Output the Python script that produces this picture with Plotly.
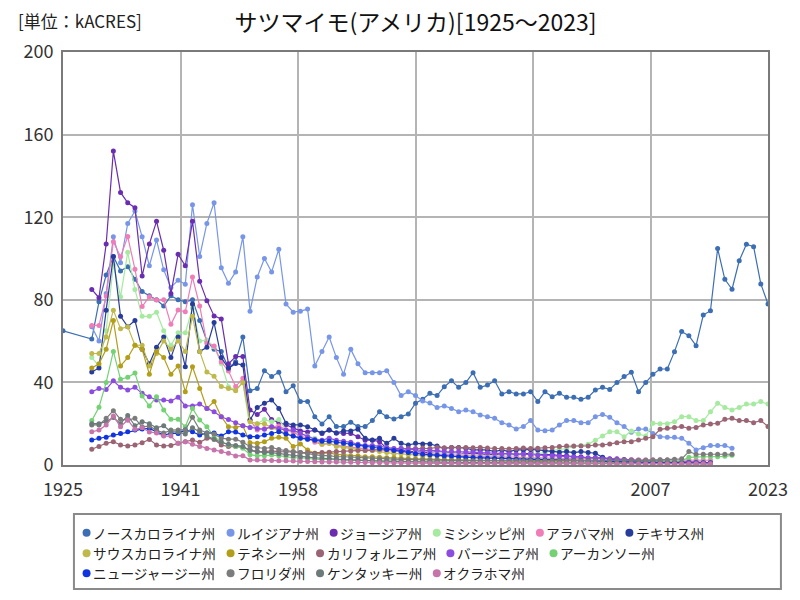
import plotly.graph_objects as go

FONT = "Noto Sans CJK JP"

# sweet potato harvested area by state, kACRES
names = ["ノースカロライナ州", "ルイジアナ州", "ジョージア州", "ミシシッピ州", "アラバマ州", "テキサス州",
         "サウスカロライナ州", "テネシー州", "カリフォルニア州", "バージニア州", "アーカンソー州",
         "ニュージャージー州", "フロリダ州", "ケンタッキー州", "オクラホマ州"]
colors = ["#3c6eb4", "#7896e8", "#6a2db0", "#a6eaa0", "#f07cb8", "#283c9c",
          "#bfb84a", "#b39e1a", "#9a6474", "#8c4ce0", "#74d274",
          "#1034e0", "#7c7c7c", "#6c7a7a", "#c674aa"]
legend_rows = [6, 5, 4]

nc_1925 = 65
north_carolina = [61, 79, 92, 101, 94, 96, 90, 84, 82, 80, 77,
                  82, 80, 79, 80, 70, 60, 56, 55, 47, 50,
                  62, 36, 37, 45.7, 42.8, 44.9, 35.5, 38.4, 30.8, 30.8,
                  23.4, 19.9, 23.4, 18.6, 18.6, 20.7, 18.6, 18.6, 21.5, 25.8,
                  23.4, 22.3, 23.4, 24.7, 29.9, 31.8, 34.7, 33.6, 37.9, 40.8,
                  37.6, 39.9, 44.7, 37.6, 38.7, 40.8, 34.4, 35.5, 34.4, 34.4,
                  35.5, 30.7, 35.5, 33.0, 34.7, 32.8, 32.8, 31.8, 32.8, 36.3,
                  37.6, 36.6, 39.9, 42.8, 44.9, 35.5, 39.9, 43.9, 46.5, 46.5,
                  54.9, 64.6, 62.6, 57.8, 72.6, 74.7, 104.8, 89.9, 85.1, 98.9,
                  106.9, 105.7, 87.7, 78.0]
louisiana = [67, 60, 83, 110.5, 98, 117, 123, 110.5, 96.5, 109, 94.5,
             86, 89.5, 87.5, 126, 101, 117, 127, 95.5, 88, 93.5,
             110.5, 74.5, 91, 100, 93.5, 104.5, 78, 74, 74.5, 75.5,
             48, 55, 62, 52, 44, 56, 49, 44.7, 44.7, 44.7,
             45.7, 40, 33.6, 35.5, 33.6, 31, 30, 27.8, 28.6, 27.4,
             25.8, 26.6, 25.8, 24.2, 23.4, 22.6, 20.5, 19.4, 17.4, 18.6,
             21.5, 16.9, 16.6, 16.9, 19.4, 21.5, 21.5, 20.5, 20.5, 23.4,
             24.5, 23.1, 20.5, 18.6, 15.8, 17.4, 17.4, 15.3, 13.7, 13.4,
             13.4, 12.9, 10.5, 7.3, 8.4, 9.4, 9.4, 9.4, 8.1]
georgia = [85, 81, 107, 152, 132, 127, 124.6, 91.5, 107, 118, 104,
           83, 102, 96.5, 118, 89, 79.6, 72.2, 70.7, 49, 52.5,
           52.5, 26.6, 24.5, 27, 22, 20.5, 19.5, 18, 16.5, 16,
           17, 15.3, 17, 15.5, 15.3, 15.3, 13.7, 12, 12, 11.3,
           8, 7.3, 7.3, 6.5, 6.5, 6.3, 6, 6.5, 6, 6,
           5.5, 5.5, 5.5, 5.5, 5, 5, 5.5, 5.5, 5, 5.5,
           5.5, 5, 5, 5, 4.5, 4.5, 4, 4, 3.5, 3.5,
           3.5, 3, 3, 2.5, 2.5, 2.2, 2, 2, 2, 1.8,
           1.8, 1.5, 1.5, 1.2, 1.2, 1.2]
mississippi = [52, 48, 65, 97, 81.5, 103, 85, 72, 72, 74, 65,
               58, 64, 64, 76, 60, 60.5, 57.3, 49.2, 37.9, 36.3,
               40, 18, 20, 22, 21, 22, 17, 16, 15, 14,
               13, 12, 13, 11, 11, 10, 10, 9.5, 9, 9,
               8.5, 8, 8, 7.5, 7, 7, 6.5, 6, 6, 5.5,
               5.5, 5, 5, 4.5, 4.5, 4.5, 4.5, 5, 4.5, 5,
               5, 5.5, 6, 7, 7.5, 8, 9, 9.5, 10, 12,
               14, 16.1, 16.1, 13.7, 16.5, 15, 14, 20.2, 20, 20,
               21, 23.4, 23.4, 21.5, 21.5, 25.8, 29.9, 27.9, 26.6, 27.9,
               29.5, 29.5, 30.7, 29.5]
alabama = [67.6, 67.6, 81.8, 108.1, 100.9, 110.6, 94.8, 76.7, 81.5, 79.9, 80,
           68.1, 75.1, 74.2, 91, 77, 58.9, 57.6, 50, 45.5, 38,
           42, 21.8, 16.9, 17.7, 18.5, 18.9, 17, 16, 14, 13,
           11, 10, 10.5, 9.5, 9, 8.6, 8.2, 7.8, 7.5, 7.2,
           6.8, 6.5, 6.2, 6, 5.8, 5.7, 5.5, 5.3, 5, 5,
           4.8, 4.5, 4.5, 4.3, 4, 4, 4, 3.8, 3.8, 3.6,
           3.5, 3.5, 3.5, 3.3, 3.2, 3.2, 3, 3, 3, 3,
           2.8, 2.8, 2.8, 2.6, 2.6, 2.6, 2.5, 2.5, 2.5, 2.4,
           2.4, 2.4, 2.4, 2.3, 2.3, 2.3]
texas = [45, 47, 75, 101, 72, 67, 70, 56, 49, 57, 62,
         52, 62, 47.6, 78, 55, 57, 69, 52, 46.8, 49.2,
         48.4, 21.8, 27.8, 29.9, 31.5, 27.4, 20.2, 19.4, 19.4, 18.5,
         16.9, 15.5, 17, 15.5, 16.5, 16.5, 17.3, 12.9, 12.1, 12.9,
         10.5, 12.9, 10.5, 9.7, 10.5, 10.2, 10.2, 9.2, 8.1, 8.5,
         8.5, 8.1, 7.3, 7.3, 7.3, 6.5, 7.3, 6.5, 7.3, 7.3,
         7.5, 7.3, 7, 6.5, 6.2, 6.5, 6, 6.5, 6, 5.7,
         3.7, 2.8, 2.5, 2.5, 2.2, 2, 2, 1.8, 1.5, 1.5,
         1.2, 1.2, 1, 1, 0.8, 0.5]
south_carolina = [54, 54, 62, 75, 66, 67, 58, 58, 48, 54, 60,
                  56, 60, 55, 72, 55, 45, 43, 38, 37, 36,
                  40, 21, 20, 20, 18, 17, 15, 14, 13, 12.5,
                  12, 10, 10.5, 9, 8.5, 8, 7.5, 7, 7, 6.5,
                  6, 5.5, 5.5, 5, 5, 4.5, 4.5, 4.5, 4, 4,
                  4, 3.8, 3.8, 3.5, 3.5, 3.5, 3.2, 3.2, 3, 3,
                  3, 2.8, 2.8, 2.8, 2.6, 2.6, 2.5, 2.5, 2.5, 2.3,
                  2.2, 2, 2, 1.9, 1.8, 1.8, 1.6, 1.5, 1.4, 1.2,
                  1.1, 1, 1, 0.9, 0.8, 0.8]
tennessee = [47, 49, 56, 70, 48, 52, 58, 56, 44, 55, 52,
             44, 48, 35.5, 47.6, 37, 27.4, 30.7, 23.4, 18.5, 18.2,
             19, 10.8, 10.5, 11.3, 12.9, 13.4, 12.9, 8.9, 10.2, 7.3,
             5.7, 5.5, 6, 5, 5, 4.5, 4.5, 4, 4, 3.8,
             3.5, 3.5, 3.3, 3, 3, 3, 2.8, 2.8, 2.6, 2.5,
             2.5, 2.4, 2.3, 2.2, 2.1, 2, 2, 1.9, 1.8, 1.8,
             1.7, 1.6, 1.6, 1.5, 1.5, 1.4, 1.4, 1.3, 1.3, 1.2,
             1.2, 1.1, 1.1, 1, 1, 1, 0.9, 0.9, 0.8, 0.8,
             0.8, 0.7, 0.7, 0.7, 0.6, 0.6]
california = [7.6, 8.9, 10.5, 11.3, 9.7, 9.2, 9.7, 10.8, 12.4, 9.7, 9.2,
              9.5, 10.5, 11.3, 12.1, 11, 12.9, 12.5, 9.7, 8.9, 8.9,
              8.5, 7.3, 6.5, 6.5, 6.8, 6.5, 6.5, 6.3, 6, 6,
              5.7, 6, 6.2, 6.5, 6.5, 6.8, 7, 7, 7.2, 7.5,
              7.5, 7.8, 8, 8, 8, 8.2, 8, 8.5, 8.3, 8.5,
              8.3, 8.5, 8.3, 8.5, 8.2, 8, 8, 7.8, 8, 8.2,
              8, 8.1, 8.3, 8.5, 8.9, 9.2, 9.2, 9.2, 9.2, 9.7,
              9.7, 10.2, 10.8, 11.3, 11.3, 12.1, 12.9, 13.7, 17.3, 17.8,
              18.2, 18.6, 17.8, 18.2, 19.4, 19.8, 20.2, 22.1, 22.6, 21.5,
              21.5, 20.5, 21.5, 18.6]
virginia = [35.5, 37, 36.6, 40.8, 37.6, 36.3, 37.6, 34.7, 33, 31.5, 31.5,
            31, 32.8, 28.6, 28.6, 29.5, 27.4, 25.8, 23.4, 22, 20.5,
            19, 18.2, 17.7, 17.3, 18.5, 17.7, 16.9, 16.9, 15.3, 13.7,
            12.4, 12, 13, 12, 11.5, 11, 10, 9.5, 9.5, 9,
            8.5, 8, 8, 7.5, 7.5, 7, 7, 7, 6.5, 6.5,
            6.5, 6.3, 6.2, 6, 5.8, 5.7, 5.5, 5.5, 5.3, 5.2,
            5, 4.8, 4.6, 4.5, 4.2, 4, 3.8, 3.5, 3.3, 3.2,
            3, 2.8, 2.6, 2.5, 2.3, 2.2, 2, 1.9, 1.8, 1.7,
            1.6, 1.5, 1.4, 1.3, 1.2, 1.2]
arkansas = [21.5, 28, 40, 55, 41.5, 42.5, 44.5, 33.4, 28.6, 33.1, 26.6,
            22.1, 22.1, 18.5, 27.4, 21.8, 18.5, 13.7, 11.3, 9.7, 8.9,
            8.1, 5, 4.5, 4.5, 4.8, 4.5, 4, 3.5, 3.5, 3,
            2.8, 2.6, 2.8, 2.5, 2.4, 2.3, 2.2, 2, 2, 1.9,
            1.8, 1.8, 1.7, 1.6, 1.6, 1.5, 1.5, 1.5, 1.4, 1.4,
            1.3, 1.3, 1.3, 1.2, 1.2, 1.2, 1.1, 1.1, 1.1, 1,
            1, 1, 1, 1, 1, 1, 1, 1, 1.1, 1.2,
            1.3, 1.3, 1.4, 1.4, 1.5, 1.5, 1.6, 1.6, 1.7, 1.8,
            1.9, 2, 3.7, 4, 4, 4, 4, 4.2, 4.7]
new_jersey = [12.1, 12.9, 13.4, 14.5, 15.3, 16.1, 16.9, 17.4, 17.7, 16.1, 14.5,
              15.3, 15.3, 16.9, 16.1, 14.5, 15.5, 15.5, 14, 16.1, 16,
              14.5, 13.7, 13.7, 14.5, 15.3, 16.1, 15, 14, 13, 12.5,
              12, 11.5, 11.5, 11, 10.5, 10, 9.5, 9, 8.5, 8,
              7.5, 7, 6.5, 6, 5.5, 5.2, 5, 4.7, 4.5, 4.3,
              4, 3.8, 3.6, 3.5, 3.3, 3.2, 3, 3, 2.8, 2.6,
              2.5, 2.5, 2.4, 2.3, 2.2, 2.2, 2.1, 2, 2, 1.9,
              1.8, 1.7, 1.6, 1.5, 1.5, 1.4, 1.3, 1.3, 1.2, 1.2,
              1.1, 1.1, 1, 1, 1, 1]
florida = [19.4, 19.4, 22.6, 26.3, 22.1, 21.8, 22.6, 18.5, 18.8, 16.9, 15.5,
           16.9, 17, 17, 23.1, 17, 15.5, 15, 13, 12.5, 12.5,
           11, 9, 8.5, 8, 8.5, 7.5, 7, 6.5, 6, 5.5,
           5, 4.5, 4.5, 4, 4, 3.8, 3.5, 3.3, 3.2, 3,
           3, 2.8, 2.7, 2.6, 2.5, 2.5, 2.4, 2.3, 2.3, 2.2,
           2.2, 2.1, 2.1, 2, 2, 2, 2, 2, 2, 2,
           2, 2, 2, 2, 2, 2, 2, 2, 2, 2,
           2, 2.1, 2.1, 2.2, 2.2, 2.3, 2.3, 2.4, 2.5, 2.6,
           2.8, 3, 6.5, 5.2, 5.2, 5.2, 5.2, 5.2, 5.2]
kentucky = [20, 20, 21, 23, 20, 24, 19, 21, 20, 18, 19,
            16, 16, 15, 18, 16, 14, 12.5, 11, 10, 9.5,
            9, 7, 6.5, 6, 6, 5.5, 5, 4.5, 4, 3.8,
            3.5, 3.2, 3, 2.8, 2.6, 2.5, 2.3, 2.2, 2, 2,
            1.8, 1.8, 1.7, 1.6, 1.5, 1.5, 1.4, 1.4, 1.3, 1.3,
            1.2, 1.2, 1.2, 1.1, 1.1, 1.1, 1, 1, 1, 1,
            1, 1, 0.9, 0.9, 0.9, 0.9, 0.9, 0.8, 0.8, 0.8,
            0.8, 0.8, 0.8, 0.8, 0.8, 0.8, 0.8, 0.8, 0.8, 0.8,
            0.8, 0.8, 0.8, 0.8, 0.8, 0.8]
oklahoma = [16.1, 16.9, 19.4, 23.7, 18.5, 21.8, 17.3, 18, 16, 15.5, 14,
            14, 10.5, 11.3, 10, 9, 8, 7.3, 6.5, 5.7, 4.4,
            4.5, 2.4, 2.4, 2.2, 2.2, 2, 2, 1.9, 1.8, 1.7,
            1.6, 1.5, 1.5, 1.4, 1.3, 1.3, 1.2, 1.2, 1.1, 1.1,
            1, 1, 1, 0.9, 0.9, 0.9, 0.8, 0.8, 0.8, 0.8,
            0.7, 0.7, 0.7, 0.7, 0.7, 0.7, 0.7, 0.7, 0.7, 0.7,
            0.6, 0.6, 0.6, 0.6, 0.6, 0.6, 0.6, 0.6, 0.6, 0.6,
            0.5, 0.5, 0.5, 0.5, 0.5, 0.5, 0.5, 0.5, 0.5, 0.5,
            0.5, 0.5, 0.5, 0.5, 0.5, 0.5]

series = [north_carolina, louisiana, georgia, mississippi, alabama, texas,
          south_carolina, tennessee, california, virginia, arkansas,
          new_jersey, florida, kentucky, oklahoma]

x_ticks = ["1925", "1941", "1958", "1974", "1990", "2007", "2023"]

fig = go.Figure()
for i, vals in enumerate(series):
    yrs = list(range(1929, 1929 + len(vals)))
    if i == 0:
        yrs = [1925] + yrs
        vals = [nc_1925] + vals
    fig.add_trace(go.Scatter(x=yrs, y=vals, mode="lines+markers", name=names[i],
                             line=dict(color=colors[i], width=1.2),
                             marker=dict(color=colors[i], size=5),
                             showlegend=False))

# plot area on screen: x 63..772, y 52..465
def px_x(p):
    return (p - 63) / 709

def px_y(p):
    return (465 - p) / 413

# hand-drawn legend: flow layout, 6 / 5 / 4 entries per row
LEG_FS = 13.7
rows_y = [532.7, 553.3, 573.3]
shapes = [dict(type="rect", xref="paper", yref="paper",
               x0=px_x(74), x1=px_x(785), y0=px_y(514), y1=px_y(589),
               line=dict(color="#8a8a8a", width=2), fillcolor="rgba(0,0,0,0)")]
annotations = []
k = 0
for r, n in enumerate(legend_rows):
    cx = 86.7
    for _ in range(n):
        shapes.append(dict(type="circle", xref="paper", yref="paper",
                           xsizemode="pixel", ysizemode="pixel",
                           xanchor=px_x(cx), yanchor=px_y(rows_y[r]),
                           x0=-4, x1=4, y0=-4, y1=4,
                           fillcolor=colors[k], line=dict(width=0)))
        tx = cx + 4.5
        annotations.append(dict(text=names[k], xref="paper", yref="paper",
                                x=px_x(tx), y=px_y(rows_y[r]),
                                xanchor="left", yanchor="middle", showarrow=False,
                                font=dict(family=FONT, size=LEG_FS, color="#222222")))
        cx = tx + 2 + len(names[k]) * LEG_FS + 15
        k += 1

annotations.append(dict(text="[単位：kACRES]", xref="paper", yref="paper",
                        x=px_x(16), y=px_y(20), xanchor="left", yanchor="middle",
                        showarrow=False, font=dict(family=FONT, size=17, color="#222222")))

fig.update_layout(
    width=800, height=600,
    title=dict(text="サツマイモ(アメリカ)[1925～2023]", x=0.5, xref="paper", xanchor="center",
               y=1 - 23 / 600, yref="container", yanchor="middle",
               font=dict(family=FONT, size=23, color="#111111")),
    margin=dict(l=63, r=28, t=52, b=135),
    plot_bgcolor="white", paper_bgcolor="white",
    font=dict(family=FONT, color="#333333"),
    showlegend=False,
    shapes=shapes, annotations=annotations,
    xaxis=dict(range=[1925, 2023], tickvals=[1925 + i * 98 / 6 for i in range(7)],
               ticktext=x_ticks, showgrid=True, gridcolor="#b4b4b4", gridwidth=2,
               showline=True, linecolor="#7a7a7a", linewidth=2, mirror=True,
               zeroline=False, ticks="", ticklabelstandoff=7,
               tickfont=dict(family=FONT, size=18, color="#333333")),
    yaxis=dict(range=[0, 200], tickvals=[0, 40, 80, 120, 160, 200],
               showgrid=True, gridcolor="#b4b4b4", gridwidth=2,
               showline=True, linecolor="#7a7a7a", linewidth=2, mirror=True,
               zeroline=False, ticks="", ticklabelstandoff=4,
               tickfont=dict(family=FONT, size=18, color="#333333")),
)

# drop the browser's default 8px body margin so the 800x600 figure fills the window
fig.write_html("out.html", config={"displayModeBar": False},
               post_script="document.body.style.margin = '0';")
